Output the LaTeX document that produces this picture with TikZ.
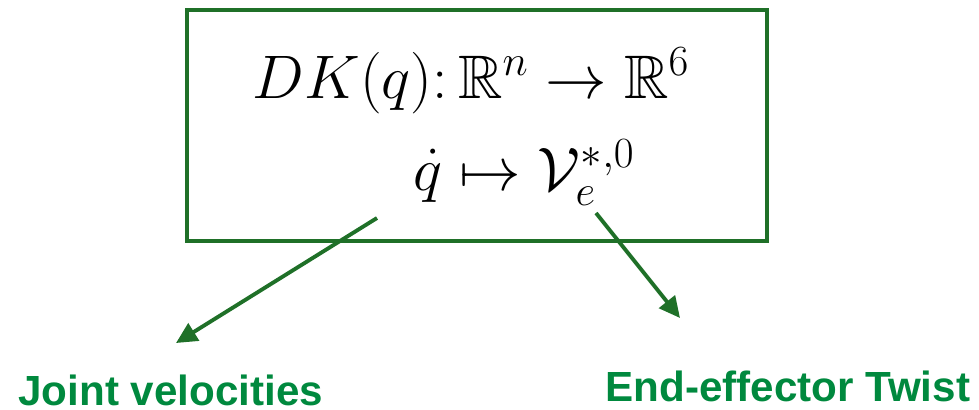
\RequirePackage{fix-cm}
\documentclass[tikz,border=0pt]{standalone}
\usepackage{amssymb}
\usepackage{fontspec}
\setsansfont{Liberation Sans}
\usetikzlibrary{arrows.meta}
\definecolor{boxgreen}{RGB}{31,112,40}
\definecolor{labgreen}{RGB}{0,137,62}
\begin{document}
\begin{tikzpicture}[x=0.02cm,y=-0.02cm,
  frame/.style={draw=boxgreen,line width=2.3pt},
  conn/.style={draw=boxgreen,line width=2.2pt,-{Triangle[length=0.42cm,width=0.4cm]}},
  mathtxt/.style={inner sep=0pt,font=\fontsize{35}{42}\selectfont},
  lab/.style={inner sep=0pt,text=labgreen,font=\sffamily\bfseries\fontsize{24}{28}\selectfont}]
\useasboundingbox (0,0) rectangle (979,409);
\node[frame,minimum width=580*0.02cm,minimum height=231*0.02cm,inner sep=0pt] (box) at (477,125.5) {};
\node[mathtxt,anchor=base] (l1) at (471,98) {$DK(q)\colon \mathbb{R}^n \rightarrow \mathbb{R}^6$};
\node[mathtxt,anchor=base] (l2) at (524,190) {$\dot{q} \mapsto \mathcal{V}_e^{*,0}$};
\node[lab,anchor=base west] (jv) at (18,405) {Joint velocities};
\node[lab,anchor=base west] (et) at (605,401) {End-effector Twist};
\coordinate (s1) at (377,218);
\coordinate (e1) at (176,343);
\coordinate (s2) at (596,213);
\coordinate (e2) at (680,318);
\draw[conn] (s1) -- (e1);
\draw[conn] (s2) -- (e2);
\end{tikzpicture}
\end{document}
